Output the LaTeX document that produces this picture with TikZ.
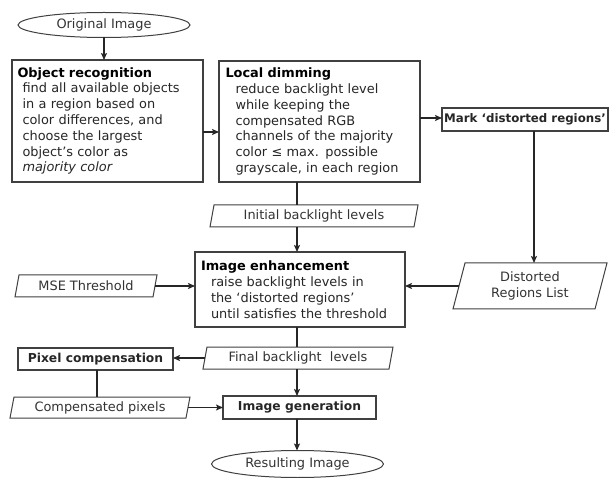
\documentclass[tikz,border=0pt]{standalone}
\usepackage{fontspec}
\setmainfont{DejaVu Sans}
\usetikzlibrary{shapes.geometric,arrows.meta,calc,shadows}
\begin{document}
\begin{tikzpicture}[x=1pt,y=-1pt,
  font=\fontsize{12.9}{15.8}\selectfont,
  every node/.style={inner sep=0pt, outer sep=0pt},
  boxsty/.style={draw=black!75, line width=1.1pt, fill=white, rectangle,
     drop shadow={shadow xshift=1.3pt, shadow yshift=-1.3pt, opacity=0.25, fill=black}},
  bigbox/.style={boxsty, align=left, text=black!85},
  smallbox/.style={boxsty, font=\fontsize{12.3}{14}\selectfont\bfseries, text=black!85},
  ovalsty/.style={draw=black!75, line width=1pt, ellipse, text=black!80},
  datasty/.style={text=black!80, align=center},
  para/.style={draw=black!75, line width=1pt},
  arr/.style={draw=black!85, line width=1.3pt, -{Stealth[length=7pt,width=6pt,inset=1.5pt]}},
  lin/.style={draw=black!85, line width=1.3pt}
]
\useasboundingbox (0,0) rectangle (613,478);
\fill[white] (0,0) rectangle (613,478);

% ovals
\node[ovalsty, minimum width=172pt, minimum height=25pt] (orig) at (104,25) {Original Image};
\node[ovalsty, minimum width=172pt, minimum height=27pt] (res) at (297.5,464) {Resulting Image};

% big boxes
\node[bigbox, minimum width=191pt, minimum height=122pt, text width=180pt] (obj) at (107.5,121)
 {\textbf{\color{black}Object recognition}\\
  \hspace*{5pt}find all available objects\\
  \hspace*{5pt}in a region based on\\
  \hspace*{5pt}color differences, and\\
  \hspace*{5pt}choose the largest\\
  \hspace*{5pt}object's color as\\
  \hspace*{5pt}\textit{majority color}};
\node[bigbox, minimum width=201pt, minimum height=121pt, text width=188pt] (local) at (319.5,121.5)
 {\textbf{\color{black}Local dimming}\\
  \hspace*{10pt}reduce backlight level\\
  \hspace*{10pt}while keeping the\\
  \hspace*{10pt}compensated RGB\\
  \hspace*{10pt}channels of the majority\\
  \hspace*{10pt}color ≤ max. possible\\
  \hspace*{10pt}grayscale, in each region};
\node[bigbox, minimum width=210pt, minimum height=75pt, text width=198pt] (enh) at (300,289.5)
 {\textbf{\color{black}Image enhancement}\\
  \hspace*{10pt}raise backlight levels in\\
  \hspace*{10pt}the `distorted regions'\\
  \hspace*{10pt}until satisfies the threshold};

% small boxes
\node[smallbox, minimum width=166pt, minimum height=23pt, font=\fontsize{11.8}{14}\selectfont\bfseries] (mark) at (525,119.5) {Mark `distorted regions'};
\node[smallbox, minimum width=155pt, minimum height=22pt] (pix) at (95.5,359) {Pixel compensation};
\node[smallbox, minimum width=153pt, minimum height=23pt] (gen) at (299.5,407.5) {Image generation};

% data (parallelograms)
\node[datasty, minimum width=208pt, minimum height=22pt] (init) at (314,216) {Initial backlight levels};
\node[datasty, minimum width=142pt, minimum height=22pt] (mse) at (86,286) {MSE Threshold};
\node[datasty, minimum width=154pt, minimum height=46pt, font=\fontsize{12.9}{16}\selectfont] (dist) at (530,286) {Distorted\\Regions List};
\node[datasty, minimum width=190pt, minimum height=22pt] (final) at (298,358) {Final backlight\ \ levels};
\node[datasty, minimum width=180pt, minimum height=21pt] (comp) at (100,407.5) {Compensated pixels};

\foreach \n/\s in {init/4,mse/4,dist/12,final/4,comp/4}{
  \draw[para] (\n.south west) -- ([xshift=\s pt]\n.north west) -- (\n.north east)
     -- ([xshift=-\s pt]\n.south east) -- cycle;
}

% edge midpoints of slanted sides
\coordinate (mseR) at ($(mse.north east)!0.5!([xshift=-4pt]mse.south east)$);
\coordinate (distL) at ($([xshift=12pt]dist.north west)!0.5!(dist.south west)$);
\coordinate (finalL) at ($([xshift=4pt]final.north west)!0.5!(final.south west)$);
\coordinate (compR) at ($(comp.north east)!0.5!([xshift=-4pt]comp.south east)$);
\coordinate (spine) at (297,0);
\coordinate (mx) at (534,0);
\coordinate (px) at (97,0);
\coordinate (oy) at (0,132);
\coordinate (ly) at (0,118);

% connectors
\draw[arr] (orig.south) -- (orig.south |- obj.north);
\draw[arr] (obj.east |- oy) -- (local.west |- oy);
\draw[arr] (local.east |- ly) -- (mark.west |- ly);
\draw[lin] (spine |- local.south) -- (spine |- init.north);
\draw[arr] (spine |- init.south) -- (spine |- enh.north);
\draw[arr] (mx |- mark.south) -- (mx |- dist.north);
\draw[arr] (distL) -- (enh.east |- distL);
\draw[arr] (mseR) -- (enh.west |- mseR);
\draw[lin] (spine |- enh.south) -- (spine |- final.north);
\draw[arr] (finalL) -- (pix.east |- finalL);
\draw[arr] (spine |- final.south) -- (spine |- gen.north);
\draw[lin] (px |- pix.south) -- (px |- comp.north);
\draw[arr] (compR) -- (gen.west |- compR);
\draw[arr] (spine |- gen.south) -- (spine |- res.north);
\end{tikzpicture}
\end{document}
